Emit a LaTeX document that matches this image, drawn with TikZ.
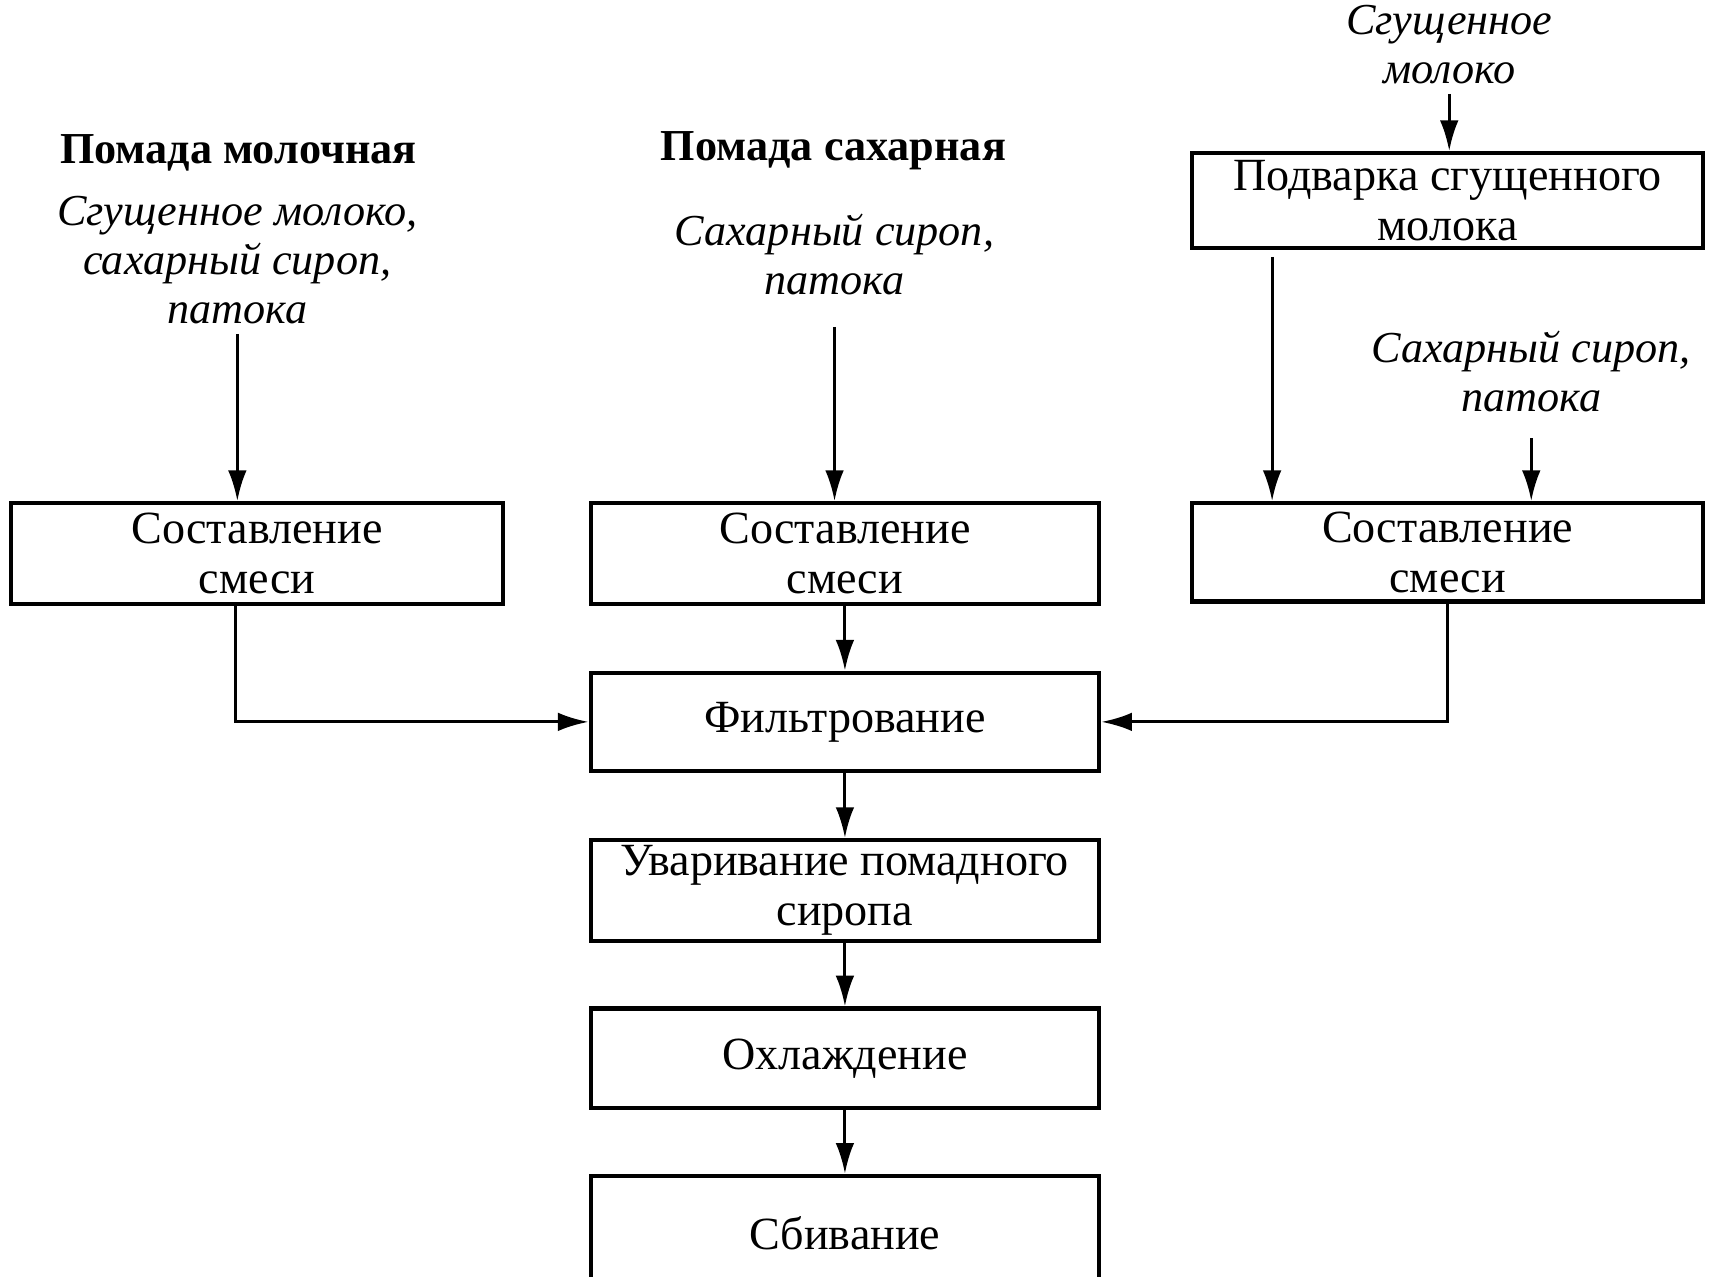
\documentclass[tikz,border=0pt]{standalone}
\usepackage{fontspec}
\setmainfont{Liberation Serif}
\usepackage{tikz}
\usetikzlibrary{arrows.meta, calc}

\begin{document}
\begin{tikzpicture}[
  box/.style={draw, rectangle, line width=1.1pt, minimum width=4.65cm, minimum height=0.92cm, inner sep=0pt, align=center, font=\fontsize{12}{13.2}\selectfont},
  src/.style={align=center, inner sep=0.08cm, font=\fontsize{11.5}{12.8}\selectfont\itshape},
  head/.style={font=\fontsize{11.5}{12}\selectfont\bfseries},
  arr/.style={-{Latex[length=2.8mm,width=1.7mm]}, line width=0.8pt}]
\useasboundingbox (0,0) rectangle (15.68,-11.67);
\node[head] (milkhead) at (2.18,-1.40) {Помада молочная};
\node[head] (sugarhead) at (7.62,-1.38) {Помада сахарная};
\node[src] (milkin) at (2.17,-2.38) {Сгущенное молоко,\\сахарный сироп,\\патока};
\node[src] (sugarin) at (7.63,-2.33) {Сахарный сироп,\\патока};
\node[src] (condin) at (13.25,-0.41) {Сгущенное\\молоко};
\node[src] (syrupin) at (14.00,-3.40) {Сахарный сироп,\\патока};
\node[box, minimum width=4.50cm] (mixA) at (2.35,-5.06) {Составление\\смеси};
\node[box] (mixB) at (7.725,-5.06) {Составление\\смеси};
\node[box, minimum width=4.67cm, minimum height=0.90cm] (mixC) at (13.235,-5.05) {Составление\\смеси};
\node[box, minimum width=4.67cm, minimum height=0.87cm] (boil) at (13.235,-1.835) {Подварка сгущенного\\молока};
\node[box, minimum height=0.90cm] (filter) at (7.725,-6.60) {Фильтрование};
\node[box] (cook) at (7.725,-8.14) {Уваривание помадного\\сиропа};
\node[box, minimum height=0.91cm] (cool) at (7.725,-9.675) {Охлаждение};
\node[box, minimum height=1.05cm] (whip) at (7.725,-11.275) {Сбивание};
\draw[arr] (milkin.south) -- (milkin.south |- mixA.north);
\draw[arr] ([yshift=-0.2cm]sugarin.south) -- (sugarin.south |- mixB.north);
\draw[arr] (condin.south) -- (condin.south |- boil.north);
\draw[arr] ([xshift=0.75cm,yshift=-0.06cm]boil.south west) -- ([xshift=0.75cm]mixC.north west);
\draw[arr] ([yshift=-0.15cm]syrupin.south) -- (syrupin.south |- mixC.north);
\draw[arr] ([xshift=-0.2cm]mixA.south) |- (filter.west);
\draw[arr] (mixB) -- (filter);
\draw[arr] (mixC.south) |- (filter.east);
\draw[arr] (filter) -- (cook);
\draw[arr] (cook) -- (cool);
\draw[arr] (cool) -- (whip);
\end{tikzpicture}
\end{document}
